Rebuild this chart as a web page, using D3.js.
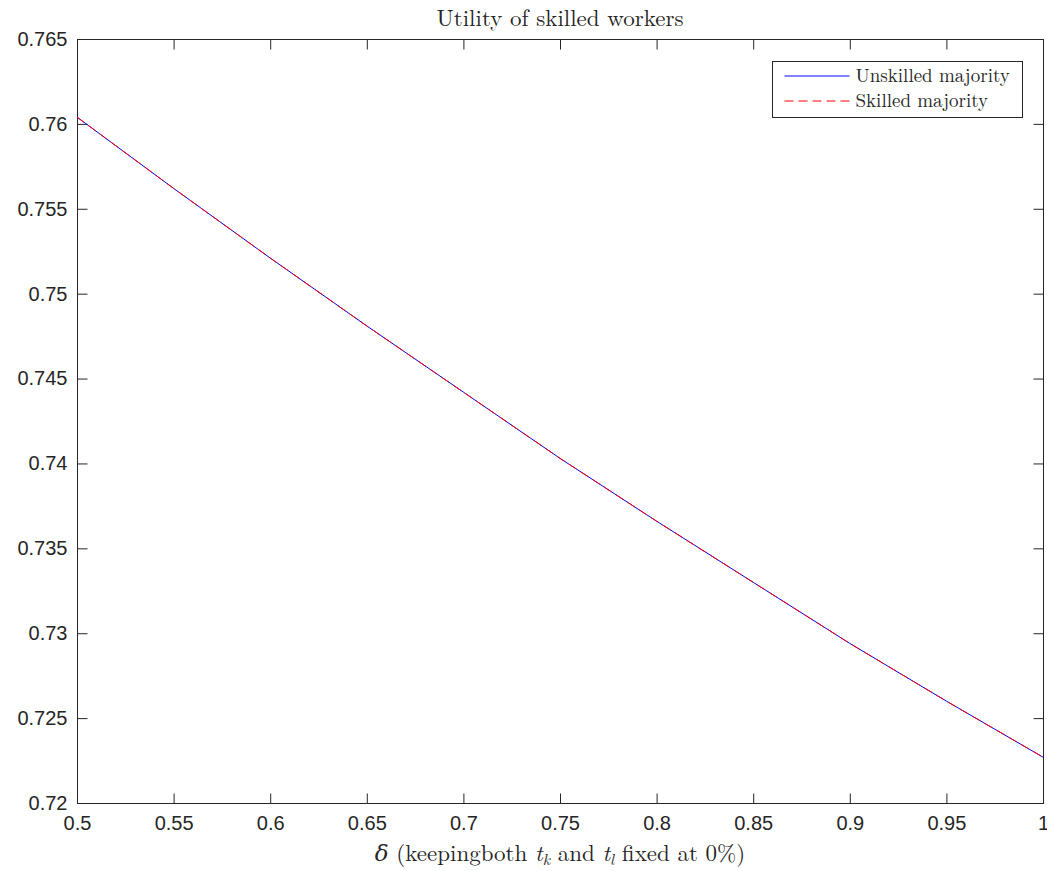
<!DOCTYPE html>
<html>
<head>
<meta charset="utf-8">
<script src="https://cdn.jsdelivr.net/npm/d3@7"></script>
<style>
  body { margin: 0; background: #fff; }
  svg text { fill: #262626; }
</style>
</head>
<body>
<script>
// delta values and utility for both majorities
var delta = [0.5, 0.55, 0.6, 0.65, 0.7, 0.75, 0.8, 0.85, 0.9, 0.95, 1.0]
var unskilled = [0.7604, 0.7562, 0.7521, 0.7481, 0.7442, 0.7403, 0.7366, 0.7330, 0.7294, 0.7260, 0.7227]
var skilled = [0.7604, 0.7562, 0.7521, 0.7481, 0.7442, 0.7403, 0.7366, 0.7330, 0.7294, 0.7260, 0.7227]
var xTicks = [0.5, 0.55, 0.6, 0.65, 0.7, 0.75, 0.8, 0.85, 0.9, 0.95, 1]
var yTicks = [0.72, 0.725, 0.73, 0.735, 0.74, 0.745, 0.75, 0.755, 0.76, 0.765]
var seriesNames = ['Unskilled majority', 'Skilled majority']

var width = 1047
var height = 871
var margin = { top: 39, right: 4, bottom: 68, left: 77 }
var axisColor = '#262626'
var tickFont = '"Liberation Sans", Arial, sans-serif'
var serif = '"Latin Modern Roman", "CMU Serif", "DejaVu Serif", "Liberation Serif", serif'

var svg = d3.select('body').append('svg')
  .attr('width', width)
  .attr('height', height)

var x = d3.scaleLinear().domain([0.5, 1]).range([margin.left, width - margin.right])
var y = d3.scaleLinear().domain([0.72, 0.765]).range([height - margin.bottom, margin.top])

var fmt = function (d) { return String(+d.toFixed(3)) }

// box
svg.append('rect')
  .attr('x', x(0.5) + 0.5)
  .attr('y', y(0.765) + 0.5)
  .attr('width', x(1) - x(0.5))
  .attr('height', y(0.72) - y(0.765))
  .style('fill', 'none')
  .style('stroke', axisColor)
  .style('stroke-width', 1)

function styleAxis (g) {
  g.select('.domain').remove()
  g.selectAll('.tick line').style('stroke', axisColor).style('stroke-width', 1)
  g.selectAll('.tick text')
    .style('font-family', tickFont)
    .style('font-size', '20px')
    .style('fill', axisColor)
}

// ticks pointing inward on all four sides
svg.append('g')
  .attr('transform', 'translate(0,' + (y(0.72) + 0.5) + ')')
  .call(d3.axisBottom(x).tickValues(xTicks).tickSize(-10).tickPadding(12).tickFormat(fmt))
  .call(styleAxis)
svg.append('g')
  .attr('transform', 'translate(0,' + (y(0.765) + 0.5) + ')')
  .call(d3.axisTop(x).tickValues(xTicks).tickSize(-10).tickFormat(''))
  .call(styleAxis)
svg.append('g')
  .attr('transform', 'translate(' + (x(0.5) + 0.5) + ',0)')
  .call(d3.axisLeft(y).tickValues(yTicks).tickSize(-10).tickPadding(10).tickFormat(fmt))
  .call(styleAxis)
svg.append('g')
  .attr('transform', 'translate(' + (x(1) + 0.5) + ',0)')
  .call(d3.axisRight(y).tickValues(yTicks).tickSize(-10).tickFormat(''))
  .call(styleAxis)

var line = d3.line()
  .x(function (d) { return x(d[0]) })
  .y(function (d) { return y(d[1]) })

svg.append('path')
  .datum(d3.zip(delta, unskilled))
  .attr('d', line)
  .attr('fill', 'none')
  .attr('stroke', '#0000ff')
  .attr('stroke-width', 1)

svg.append('path')
  .datum(d3.zip(delta, skilled))
  .attr('d', line)
  .attr('fill', 'none')
  .attr('stroke', '#ff0000')
  .attr('stroke-width', 1)
  .attr('stroke-dasharray', '9,5')

// title
svg.append('text')
  .attr('x', (x(0.5) + x(1)) / 2)
  .attr('y', 26)
  .attr('text-anchor', 'middle')
  .style('font-family', serif)
  .style('font-size', '23px')
  .text('Utility of skilled workers')

// x label with math subscripts
var xl = svg.append('text')
  .attr('x', (x(0.5) + x(1)) / 2)
  .attr('y', 861)
  .attr('text-anchor', 'middle')
  .style('font-family', serif)
  .style('font-size', '23px')
xl.append('tspan').style('font-style', 'italic').text('δ')
xl.append('tspan').text(' (keepingboth ')
xl.append('tspan').style('font-style', 'italic').text('t')
xl.append('tspan').style('font-style', 'italic').style('font-size', '16px').attr('dy', 4).text('k')
xl.append('tspan').attr('dy', -4).text(' and ')
xl.append('tspan').style('font-style', 'italic').text('t')
xl.append('tspan').style('font-style', 'italic').style('font-size', '16px').attr('dy', 4).text('l')
xl.append('tspan').attr('dy', -4).text(' fixed at 0%)')

// legend
var legend = svg.append('g').attr('transform', 'translate(772.5,61.5)')
legend.append('rect')
  .attr('width', 250)
  .attr('height', 56)
  .attr('fill', '#fff')
  .attr('stroke', axisColor)
  .attr('stroke-width', 1)

var legendColors = ['#0000ff', '#ff0000']
var legendDash = ['none', '9,5']
seriesNames.forEach(function (name, i) {
  var row = legend.append('g').attr('transform', 'translate(0,' + (14.5 + i * 25) + ')')
  row.append('line')
    .attr('x1', 12).attr('x2', 77)
    .attr('y1', 0).attr('y2', 0)
    .attr('stroke', legendColors[i])
    .attr('stroke-width', 1)
    .attr('stroke-dasharray', legendDash[i])
  row.append('text')
    .attr('x', 83)
    .attr('y', 6)
    .style('font-family', serif)
    .style('font-size', '19px')
    .text(name)
})
</script>
</body>
</html>
